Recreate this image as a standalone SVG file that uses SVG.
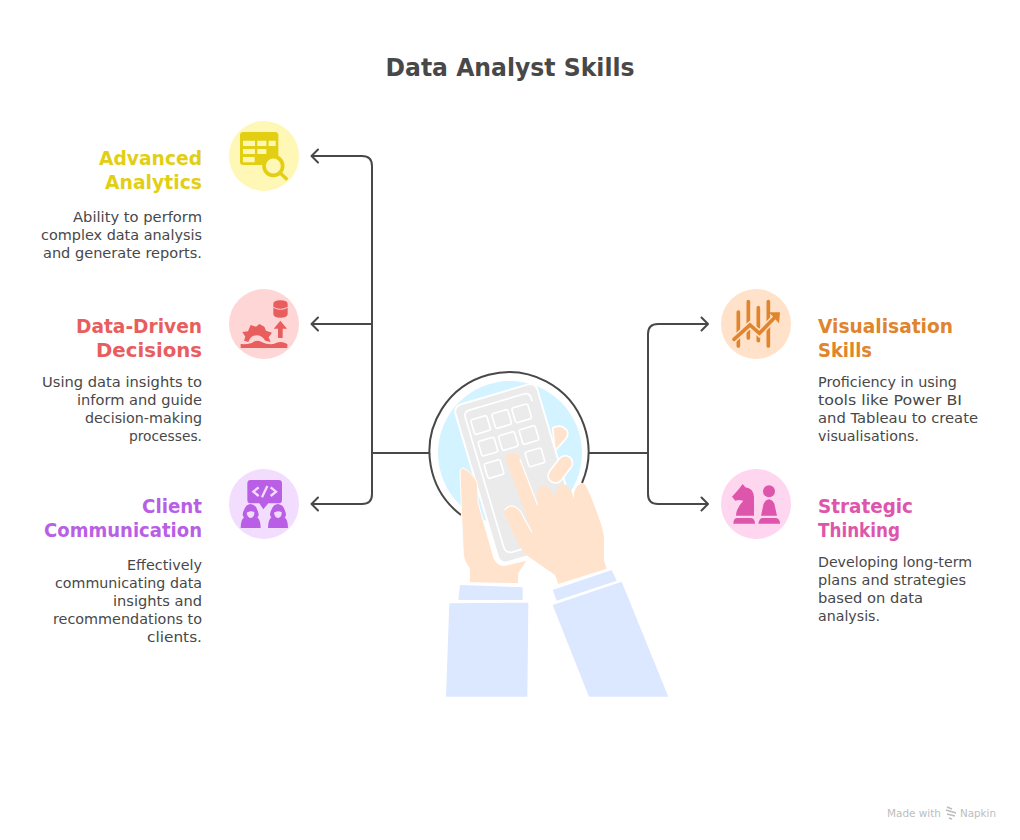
<svg xmlns="http://www.w3.org/2000/svg" width="1020" height="840" viewBox="0 0 1020 840">
<style>
text{font-family:"DejaVu Sans","Liberation Sans",sans-serif}
.title{font-size:25px;font-weight:700;fill:#484848}
.h{font-size:19.5px;font-weight:700}
.d{font-size:14px;fill:#484848}
.e{text-anchor:end}
.conn{fill:none;stroke:#484848;stroke-width:2}
.key{fill:#ebebeb;stroke:#fff;stroke-width:5}
.y{fill:#e2cf13}.yt{fill:#fef7b5}
.r{fill:#e85d5d}.rt{fill:#ffd6d6}
.p{fill:#b95fe5}.pt{fill:#f3ddff}
.o{fill:#e0842d}.ot{fill:#ffe2c9}
.k{fill:#de55ac}.kt{fill:#ffd6f0}
</style>
<defs>
<marker id="arrow" markerUnits="userSpaceOnUse" markerWidth="12" markerHeight="18" refX="8.500" refY="9" orient="auto" viewBox="0 0 12 18">
<path d="M2 2.500L8.500 9L2 15.500" fill="none" stroke="#484848" stroke-width="2" stroke-linejoin="round" stroke-linecap="round"/>
</marker>
</defs>
<rect width="1020" height="840" fill="#fff"/>
<text class="title" x="510" y="76" text-anchor="middle" textLength="249" lengthAdjust="spacingAndGlyphs">Data Analyst Skills</text>

<g id="connectors">
<path class="conn" d="M430 453H372"/>
<path class="conn" marker-end="url(#arrow)" d="M372 453V166Q372 156 362 156H311.500"/>
<path class="conn" marker-end="url(#arrow)" d="M372 324H311.500"/>
<path class="conn" marker-end="url(#arrow)" d="M372 453V494Q372 504 362 504H311.500"/>
<path class="conn" d="M589 453H648"/>
<path class="conn" marker-end="url(#arrow)" d="M648 453V334Q648 324 658 324H708"/>
<path class="conn" marker-end="url(#arrow)" d="M648 453V494Q648 504 658 504H708"/>
</g>

<g id="center-illustration">
<circle cx="510" cy="453" r="72" fill="#d2f3ff"/>
<path d="M461 515A79.500 79.500 0 1 1 582 483" fill="none" stroke="#484848" stroke-width="2"/>
<g transform="translate(420 360) scale(.33333)">
<path d="M398 203Q425 190 442 212Q448 228 430 245L405 272Z" fill="#ffe3cc" stroke="#fff" stroke-width="5"/>
<g transform="translate(293 340) rotate(-16.500)">
<rect x="-128" y="-247" width="256" height="494" rx="22" fill="#ebebeb" stroke="#fff" stroke-width="6"/>
<path d="M103 -195V-205Q103 -223 85 -223H-85Q-103 -223 -103 -205V200Q-103 218 -85 222H-40" fill="none" stroke="#fff" stroke-width="5"/>
</g>
<g class="keys">
<rect class="key" x="-25" y="-23" width="50" height="46" rx="6" transform="translate(182 195) rotate(-16.500)"/>
<rect class="key" x="-25" y="-23" width="50" height="46" rx="6" transform="translate(245 177) rotate(-16.500)"/>
<rect class="key" x="-25" y="-23" width="50" height="46" rx="6" transform="translate(305 160) rotate(-16.500)"/>
<rect class="key" x="-25" y="-23" width="50" height="46" rx="6" transform="translate(204 260) rotate(-16.500)"/>
<rect class="key" x="-25" y="-23" width="50" height="46" rx="6" transform="translate(265 243) rotate(-16.500)"/>
<rect class="key" x="-25" y="-23" width="50" height="46" rx="6" transform="translate(327 225) rotate(-16.500)"/>
<rect class="key" x="-25" y="-23" width="50" height="46" rx="6" transform="translate(222 327) rotate(-16.500)"/>
<rect class="key" x="-25" y="-23" width="50" height="46" rx="6" transform="translate(345 292) rotate(-16.500)"/>
</g>
<path d="M120 335Q122 322 132 325Q160 340 172 368L175 430L222 595Q232 618 255 616L322 600L296 640V671L148 668V625Q132 605 130 585L125 470Z" fill="#ffe3cc" stroke="#fff" stroke-width="3"/>
<rect x="-22" y="-46" width="44" height="92" rx="22" transform="translate(421 328) rotate(38)" fill="#ffe3cc" stroke="#fff" stroke-width="5"/>
<path d="M257 295Q258 278 275 278Q295 280 300 298L352 430C348 385 358 378 370 378C390 378 400 400 403 418C405 390 415 373 430 373C448 373 458 400 462 418C460 390 470 372 490 370Q500 375 520 430Q545 490 552 530V600L560 626L415 672L405 645L340 600Q315 585 300 560L252 458Q250 438 272 436Q298 442 308 465L335 515Z" fill="#ffe3cc"/>
<path d="M300 298L352 433M255 450Q262 436 280 438Q300 445 310 470L335 515" fill="none" stroke="#fff" stroke-width="3.500" stroke-linecap="round"/>
<path d="M120 675L308 682V720H115Z" fill="#dce8ff"/>
<path d="M88 730L325 728L322 1010H78Z" fill="#dce8ff"/>
<path d="M398 690L575 630L590 662L410 722Z" fill="#dce8ff"/>
<path d="M398 735L605 665L745 1010H507Z" fill="#dce8ff"/>
</g>
</g>

<g id="node-advanced-analytics">
<circle class="yt" cx="264" cy="156" r="35"/>
<g transform="translate(220 110) scale(.33333)">
<rect class="y" x="60" y="66" width="115" height="99" rx="10"/>
<path class="yt" d="M69 92h36v16h-36zM112 92h27v16h-27zM146 92h21v16h-21zM69 117h36v15h-36zM112 117h27v15h-27zM69 141h35v16h-35z"/>
<circle cx="160" cy="168" r="28" fill="#fef7b5" stroke="#e2cf13" stroke-width="11"/>
<path d="M180 188L199 206" stroke="#e2cf13" stroke-width="10" stroke-linecap="round"/>
</g>
<text class="h e y" x="202" y="165" textLength="103" lengthAdjust="spacingAndGlyphs">Advanced</text>
<text class="h e y" x="202" y="189" textLength="97" lengthAdjust="spacingAndGlyphs">Analytics</text>
<text class="d e" x="202" y="222" textLength="129" lengthAdjust="spacingAndGlyphs">Ability to perform</text>
<text class="d e" x="202" y="240" textLength="161" lengthAdjust="spacingAndGlyphs">complex data analysis</text>
<text class="d e" x="202" y="258" textLength="159" lengthAdjust="spacingAndGlyphs">and generate reports.</text>
</g>

<g id="node-data-driven-decisions">
<circle class="rt" cx="264" cy="324" r="35"/>
<g transform="translate(220 110) scale(.33333)">
<path class="r" d="M160 582Q160 571 181 571Q203 571 203 582V612Q203 623 181 623Q160 623 160 612Z"/>
<path d="M160 592Q181 604 203 592" fill="none" stroke="#ffd6d6" stroke-width="3"/>
<path class="r" d="M181 632L201 656H188V684H174V656H161Z"/>
<path class="r" d="M67 666L84 664L92 645L108 650L118 642L133 650L138 662L156 668L146 682L152 696L136 692Q125 676 110 676Q92 676 85 696L72 692L76 680Z"/>
<path class="r" d="M62 702Q90 704 100 696Q112 688 125 696Q150 708 170 698Q185 692 202 702V714H62Z"/>
</g>
<text class="h e r" x="202" y="333" textLength="126" lengthAdjust="spacingAndGlyphs">Data-Driven</text>
<text class="h e r" x="202" y="357" textLength="106" lengthAdjust="spacingAndGlyphs">Decisions</text>
<text class="d e" x="202" y="387" textLength="160" lengthAdjust="spacingAndGlyphs">Using data insights to</text>
<text class="d e" x="202" y="405" textLength="125" lengthAdjust="spacingAndGlyphs">inform and guide</text>
<text class="d e" x="202" y="423" textLength="117" lengthAdjust="spacingAndGlyphs">decision-making</text>
<text class="d e" x="202" y="441" textLength="73" lengthAdjust="spacingAndGlyphs">processes.</text>
</g>

<g id="node-client-communication">
<circle class="pt" cx="264" cy="504" r="35"/>
<g transform="translate(220 460) scale(.33333)">
<path class="p" d="M92 60H176Q186 60 186 70V120Q186 130 176 130H145L130 148L118 130H92Q82 130 82 120V70Q82 60 92 60Z"/>
<path d="M116 82L100 95L116 108M152 82L168 95L152 108M142 78L126 112" fill="none" stroke="#f3ddff" stroke-width="7"/>
<path class="p" d="M62 204Q62 180 72 172Q64 165 72 150Q78 132 92 132Q108 134 112 150Q120 168 112 172Q122 180 122 204Z"/>
<path class="p" d="M144 204Q144 180 154 172Q146 165 154 150Q160 132 174 132Q190 134 194 150Q202 168 194 172Q204 180 204 204Z"/>
<path d="M80 158Q90 150 103 156Q104 172 92 174Q82 172 80 158ZM162 158Q172 150 185 156Q186 172 174 174Q164 172 162 158Z" fill="#f3ddff"/>
</g>
<text class="h e p" x="202" y="513" textLength="60" lengthAdjust="spacingAndGlyphs">Client</text>
<text class="h e p" x="202" y="537" textLength="158" lengthAdjust="spacingAndGlyphs">Communication</text>
<text class="d e" x="202" y="570" textLength="75" lengthAdjust="spacingAndGlyphs">Effectively</text>
<text class="d e" x="202" y="588" textLength="147" lengthAdjust="spacingAndGlyphs">communicating data</text>
<text class="d e" x="202" y="606" textLength="89" lengthAdjust="spacingAndGlyphs">insights and</text>
<text class="d e" x="202" y="624" textLength="149" lengthAdjust="spacingAndGlyphs">recommendations to</text>
<text class="d e" x="202" y="642" textLength="55" lengthAdjust="spacingAndGlyphs">clients.</text>
</g>

<g id="node-visualisation-skills">
<circle class="ot" cx="756" cy="324" r="35"/>
<g transform="translate(700 280) scale(.33333)">
<path d="M115 96V198M145 65V174M175 83V182M205 65V198" fill="none" stroke="#e0842d" stroke-width="11" stroke-linecap="round"/>
<path d="M102 178L150 135L178 160L222 115" fill="none" stroke="#ffe2c9" stroke-width="20"/>
<path d="M102 178L150 135L178 160L222 115" fill="none" stroke="#e0842d" stroke-width="11" stroke-linecap="round"/>
<path class="o" d="M207 97H240L237 130Z"/>
</g>
<text class="h o" x="818" y="333" textLength="135" lengthAdjust="spacingAndGlyphs">Visualisation</text>
<text class="h o" x="818" y="357" textLength="54" lengthAdjust="spacingAndGlyphs">Skills</text>
<text class="d" x="818" y="387" textLength="139" lengthAdjust="spacingAndGlyphs">Proficiency in using</text>
<text class="d" x="818" y="405" textLength="144" lengthAdjust="spacingAndGlyphs">tools like Power BI</text>
<text class="d" x="818" y="423" textLength="160" lengthAdjust="spacingAndGlyphs">and Tableau to create</text>
<text class="d" x="818" y="441" textLength="101" lengthAdjust="spacingAndGlyphs">visualisations.</text>
</g>

<g id="node-strategic-thinking">
<circle class="kt" cx="756" cy="504" r="35"/>
<g transform="translate(700 280) scale(.33333)">
<path class="k" d="M128 612L136 622Q160 625 162 650V707H108Q108 685 130 662L116 660L106 662L96 650L116 628Z"/>
<path class="k" d="M100 731Q100 714 112 714H153Q165 716 165 731Z"/>
<circle class="k" cx="207" cy="634" r="18"/>
<path class="k" d="M207 658Q222 660 225 680L231 707H183L189 680Q192 660 207 658Z"/>
<path class="k" d="M175 731Q178 714 188 714H228Q240 716 240 731Z"/>
</g>
<text class="h k" x="818" y="513" textLength="95" lengthAdjust="spacingAndGlyphs">Strategic</text>
<text class="h k" x="818" y="537" textLength="82" lengthAdjust="spacingAndGlyphs">Thinking</text>
<text class="d" x="818" y="567" textLength="154" lengthAdjust="spacingAndGlyphs">Developing long-term</text>
<text class="d" x="818" y="585" textLength="148" lengthAdjust="spacingAndGlyphs">plans and strategies</text>
<text class="d" x="818" y="603" textLength="105" lengthAdjust="spacingAndGlyphs">based on data</text>
<text class="d" x="818" y="621" textLength="62" lengthAdjust="spacingAndGlyphs">analysis.</text>
</g>

<g id="watermark">
<text x="887" y="817" font-size="11" fill="#bdbdbd" textLength="54" lengthAdjust="spacingAndGlyphs">Made with</text>
<path d="M947 807L952 809M946 810L956 813M947 814L955 816M949 818L952 819" stroke="#bdbdbd" stroke-width="1.500" fill="none"/>
<text x="960" y="817" font-size="11" fill="#bdbdbd" textLength="36" lengthAdjust="spacingAndGlyphs">Napkin</text>
</g>
</svg>
